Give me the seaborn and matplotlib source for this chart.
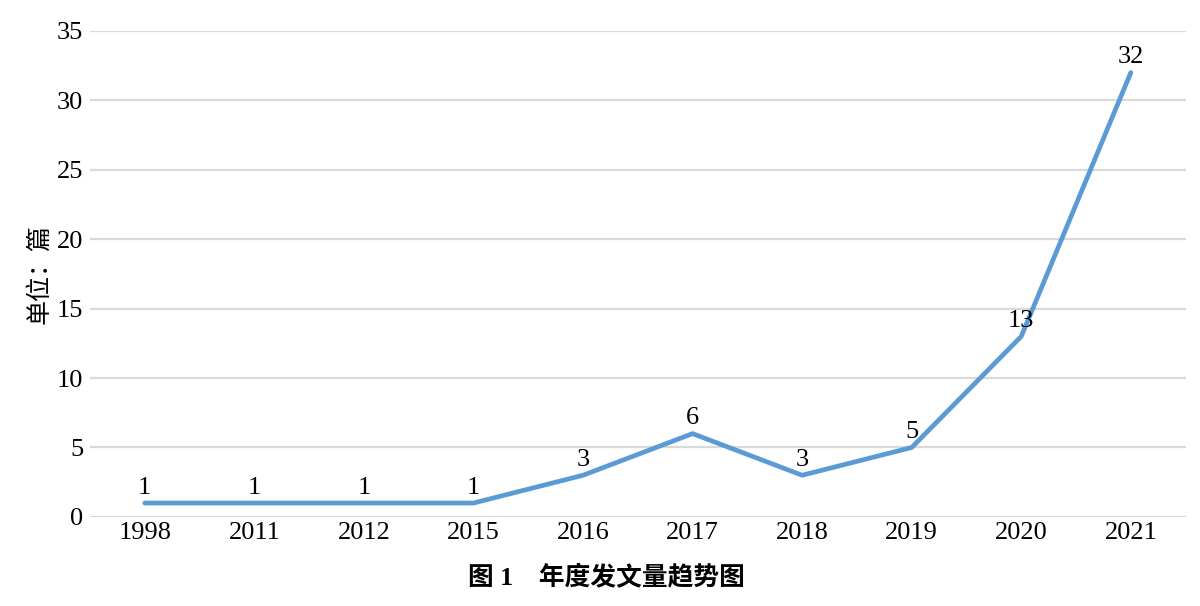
import matplotlib
matplotlib.use("Agg")
import matplotlib.pyplot as plt
import seaborn as sns
import pandas as pd

years = ["1998", "2011", "2012", "2015", "2016", "2017", "2018", "2019", "2020", "2021"]
counts = [1, 1, 1, 1, 3, 6, 3, 5, 13, 32]
y_ticks = [0, 5, 10, 15, 20, 25, 30, 35]
y_label = "单位：篇"
caption = "图 1　年度发文量趋势图"

sns.set_theme(style="white")
plt.rcParams['font.family'] = ['Liberation Serif', 'Noto Sans CJK SC', 'DejaVu Sans']
plt.rcParams['text.color'] = 'black'
plt.rcParams['axes.labelcolor'] = 'black'

df = pd.DataFrame({"year": years, "count": counts})

fig = plt.figure(figsize=(12, 6.06), dpi=100)
ax = fig.add_axes([0.075, 0.147, 0.913, 0.802])

sns.lineplot(data=df, x="year", y="count", sort=False, ax=ax,
             color="#5B9BD5", linewidth=3.4, solid_capstyle="round", zorder=3)

ax.set_xlim(-0.5, len(years) - 0.5)
ax.set_ylim(0, 35)
ax.set_yticks(y_ticks)
ax.yaxis.grid(True, color="#d9d9d9", linewidth=1.6)
ax.set_axisbelow(True)
for s in ax.spines.values():
    s.set_visible(False)
ax.tick_params(axis="both", length=0, labelsize=19, colors="black", pad=4)
ax.tick_params(axis="y", pad=5)
ax.set_xlabel("")
ax.set_ylabel(y_label, fontsize=18, color="black", family=['Noto Sans CJK SC', 'DejaVu Sans'])
ax.yaxis.set_label_coords(-0.034, 0.5)

for i, v in enumerate(counts):
    ax.annotate(str(v), (i, v), xytext=(0, 3), textcoords="offset points",
                ha="center", va="bottom", fontsize=19, color="black")

fig.text(0.505, 0.047, caption, ha="center", va="center", fontsize=18.5, fontweight="bold",
         color="black", family=['Liberation Serif', 'Noto Sans CJK SC'])

fig.savefig("out.png", dpi=100, facecolor="white")
